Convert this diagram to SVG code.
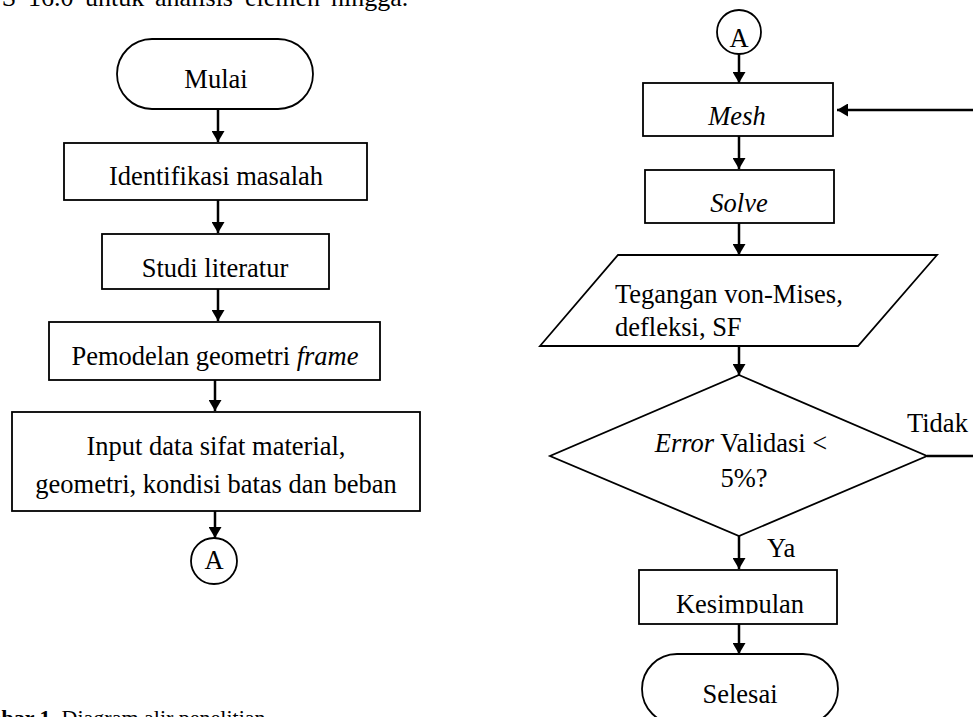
<svg xmlns="http://www.w3.org/2000/svg" width="973" height="717" viewBox="0 0 973 717">
<style>
  .shape { fill: #ffffff; stroke: #000000; stroke-width: 1.8; }
  .conn { fill: none; stroke: #000000; stroke-width: 2.5; }
  .t { font-family: "Liberation Serif", "Times New Roman", serif; font-size: 26.5px; fill: #000000; }
  .c { text-anchor: middle; }
  .it { font-style: italic; }
  .body { font-family: "Liberation Serif", "Times New Roman", serif; font-size: 26px; fill: #000000; }
  .cap { font-family: "Liberation Serif", "Times New Roman", serif; font-size: 22px; fill: #000000; }
</style>
<defs>
  <marker id="ah" markerUnits="userSpaceOnUse" markerWidth="12" markerHeight="13" refX="11" refY="6.5" orient="auto">
    <path d="M0,0 L11,6.5 L0,13 Z" fill="#000000"/>
  </marker>
  <clipPath id="kclip"><rect x="600" y="560" width="260" height="53.5"/></clipPath>
</defs>
<rect width="973" height="717" fill="#ffffff"/>

<!-- body text fragments cut by the frame -->
<text class="body" y="6"><tspan x="-69">ANSYS</tspan><tspan x="28">16.0</tspan><tspan x="85">untuk</tspan><tspan x="155">analisis</tspan><tspan x="245">elemen</tspan><tspan x="331">hingga.</tspan></text>
<text class="cap" x="-45" y="725"><tspan font-weight="bold">Gambar 1.</tspan> Diagram alir penelitian</text>

<g id="connectors">
  <line class="conn" x1="218" y1="109" x2="218" y2="142" marker-end="url(#ah)"/>
  <line class="conn" x1="218" y1="200" x2="218" y2="233" marker-end="url(#ah)"/>
  <line class="conn" x1="218" y1="289" x2="218" y2="321" marker-end="url(#ah)"/>
  <line class="conn" x1="215" y1="380" x2="215" y2="411" marker-end="url(#ah)"/>
  <line class="conn" x1="215" y1="511" x2="215" y2="538" marker-end="url(#ah)"/>
  <line class="conn" x1="739" y1="54" x2="739" y2="83" marker-end="url(#ah)"/>
  <line class="conn" x1="739" y1="136" x2="739" y2="169" marker-end="url(#ah)"/>
  <line class="conn" x1="739" y1="223" x2="739" y2="255" marker-end="url(#ah)"/>
  <line class="conn" x1="739" y1="346" x2="739" y2="375" marker-end="url(#ah)"/>
  <line class="conn" x1="739" y1="536" x2="739" y2="569" marker-end="url(#ah)"/>
  <line class="conn" x1="739" y1="624" x2="739" y2="654" marker-end="url(#ah)"/>
  <polyline class="conn" points="927,456 990,456 990,110 837,110" marker-end="url(#ah)"/>
  <text class="t" x="907" y="432">Tidak</text>
  <text class="t" x="767" y="557">Ya</text>
</g>

<g id="mulai">
  <rect class="shape" x="117" y="39" width="196" height="70" rx="35" ry="35"/>
  <text class="t c" x="216" y="88">Mulai</text>
</g>
<g id="identifikasi">
  <rect class="shape" x="64" y="143" width="303" height="57"/>
  <text class="t c" x="216" y="185">Identifikasi masalah</text>
</g>
<g id="studi">
  <rect class="shape" x="102" y="234" width="227" height="55"/>
  <text class="t c" x="215" y="277">Studi literatur</text>
</g>
<g id="pemodelan">
  <rect class="shape" x="49" y="322" width="331" height="58"/>
  <text class="t c" x="215" y="365">Pemodelan geometri <tspan class="it">frame</tspan></text>
</g>
<g id="input">
  <rect class="shape" x="12" y="412" width="408" height="99"/>
  <text class="t c" x="216" y="455">Input data sifat material,</text>
  <text class="t c" x="216" y="493">geometri, kondisi batas dan beban</text>
</g>
<g id="connA1">
  <circle class="shape" cx="214" cy="561" r="23"/>
  <text class="t c" x="214" y="569">A</text>
</g>

<g id="connA2">
  <circle class="shape" cx="739" cy="32" r="22"/>
  <text class="t c" x="739" y="47">A</text>
</g>
<g id="mesh">
  <rect class="shape" x="643" y="83" width="190" height="53"/>
  <text class="t c it" x="737" y="125">Mesh</text>
</g>
<g id="solve">
  <rect class="shape" x="645" y="170" width="189" height="53"/>
  <text class="t c it" x="739" y="212">Solve</text>
</g>
<g id="hasil">
  <polygon class="shape" points="618,255 937,255 858,346 540,346"/>
  <text class="t" x="615" y="303">Tegangan von-Mises,</text>
  <text class="t" x="615" y="336">defleksi, SF</text>
</g>
<g id="validasi">
  <polygon class="shape" points="739,375 927,456 739,536 550,456"/>
  <text class="t c" x="741" y="452"><tspan class="it">Error</tspan> Validasi &lt;</text>
  <text class="t c" x="744" y="487">5%?</text>
</g>
<g id="kesimpulan">
  <rect class="shape" x="639" y="570" width="198" height="54"/>
  <text class="t c" x="740" y="613" clip-path="url(#kclip)">Kesimpulan</text>
</g>
<g id="selesai">
  <rect class="shape" x="642" y="654" width="196" height="70" rx="35" ry="35"/>
  <text class="t c" x="740" y="703">Selesai</text>
</g>
</svg>
